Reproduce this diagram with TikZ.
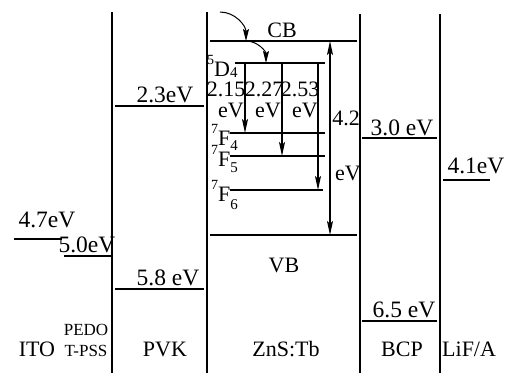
\documentclass[tikz,border=0pt]{standalone}
\usepackage{fontspec}
\setmainfont{Liberation Serif}
\usetikzlibrary{arrows.meta}

\newcommand{\term}[4]{\raisebox{12pt}{\fontsize{14}{14}\selectfont#1}#2\raisebox{-#4}{\fontsize{15}{15}\selectfont#3}}

\tikzset{
  edtext/.style={font=\fontsize{22}{24}\selectfont, inner sep=0pt, anchor=base},
  edvalue/.style={font=\fontsize{23.5}{25}\selectfont, inner sep=0pt, anchor=base},
  edsmall/.style={font=\fontsize{17}{18}\selectfont, inner sep=0pt, anchor=base},
  edwall/.style={line width=1.2pt},
  edlevel/.style={line width=1.2pt},
  edtrans/.style={line width=1.2pt, -{Stealth[length=14pt, width=6pt, inset=3pt]}},
  edgap/.style={line width=1.2pt, {Stealth[length=14pt, width=6pt, inset=3pt]}-{Stealth[length=14pt, width=6pt, inset=3pt]}},
  edcurve/.style={line width=1pt, -{Stealth[length=12pt, width=6pt, inset=2pt]}}
}

\begin{document}
\begin{tikzpicture}[x=1pt, y=-1pt]
\useasboundingbox (0,0) rectangle (505,373);

\coordinate (wa0) at (112,12);
\coordinate (wa1) at (112,373);
\coordinate (wb0) at (207,12);
\coordinate (wb1) at (207,373);
\coordinate (wc0) at (360,14);
\coordinate (wc1) at (360,373);
\coordinate (wd0) at (440,14);
\coordinate (wd1) at (440,373);

\coordinate (itoL) at (14,239);
\coordinate (itoR) at (62,239);
\coordinate (pedotL) at (64,256);
\coordinate (pedotR) at (111,256);
\coordinate (pvkuL) at (115,106);
\coordinate (pvkuR) at (204,106);
\coordinate (pvkdL) at (115,289);
\coordinate (pvkdR) at (204,289);
\coordinate (cbL) at (210,41);
\coordinate (cbR) at (357,41);
\coordinate (vbL) at (210,235);
\coordinate (vbR) at (357,235);
\coordinate (dfourL) at (235,63);
\coordinate (dfourR) at (325,63);
\coordinate (ffourL) at (230,133);
\coordinate (ffourR) at (325,133);
\coordinate (ffiveL) at (230,156);
\coordinate (ffiveR) at (325,156);
\coordinate (fsixL) at (230,190);
\coordinate (fsixR) at (323,190);
\coordinate (bcpuL) at (362,138);
\coordinate (bcpuR) at (437,138);
\coordinate (bcpdL) at (362,321);
\coordinate (bcpdR) at (437,321);
\coordinate (lifL) at (443,180);
\coordinate (lifR) at (490,180);

\coordinate (tAtop) at (245,63);
\coordinate (tAbot) at (245,133);
\coordinate (tBtop) at (282,63);
\coordinate (tBbot) at (282,156);
\coordinate (tCtop) at (318,63);
\coordinate (tCbot) at (318,190);
\coordinate (gaptop) at (330,41);
\coordinate (gapbot) at (330,235);
\coordinate (inj) at (220,12);
\coordinate (injcb) at (246,41);
\coordinate (injd) at (266,63);

\draw[edwall] (wa0) -- (wa1);
\draw[edwall] (wb0) -- (wb1);
\draw[edwall] (wc0) -- (wc1);
\draw[edwall] (wd0) -- (wd1);

\draw[edlevel] (itoL) -- (itoR);
\draw[edlevel] (pedotL) -- (pedotR);
\draw[edlevel] (pvkuL) -- (pvkuR);
\draw[edlevel] (pvkdL) -- (pvkdR);
\draw[edlevel] (cbL) -- (cbR);
\draw[edlevel] (vbL) -- (vbR);
\draw[edlevel] (dfourL) -- (dfourR);
\draw[edlevel] (ffourL) -- (ffourR);
\draw[edlevel] (ffiveL) -- (ffiveR);
\draw[edlevel] (fsixL) -- (fsixR);
\draw[edlevel] (bcpuL) -- (bcpuR);
\draw[edlevel] (bcpdL) -- (bcpdR);
\draw[edlevel] (lifL) -- (lifR);

\draw[edtrans] (tAtop) -- (tAbot);
\draw[edtrans] (tBtop) -- (tBbot);
\draw[edtrans] (tCtop) -- (tCbot);
\draw[edgap] (gaptop) -- (gapbot);
\draw[edcurve] (inj) to[out=0, in=90] (injcb);
\draw[edcurve] (injcb) to[out=0, in=90] (injd);

\node[edvalue] (itoval) at (47,227) {4.7eV};
\node[edvalue] (pedotval) at (87,252) {5.0eV};
\node[edvalue] (pvkuval) at (165,102) {2.3eV};
\node[edvalue] (pvkdval) at (168,285) {5.8 eV};
\node[edtext] (cbtext) at (282,37) {CB};
\node[edtext] (vbtext) at (284,272) {VB};
\node[edtext, anchor=base west] (dfour) at (207,76) {\term{5}{D}{4}{1.5pt}};
\node[edtext, anchor=base west] (ffour) at (211,145) {\term{7}{F}{4}{5pt}};
\node[edtext, anchor=base west] (ffive) at (211,166) {\term{7}{F}{5}{6pt}};
\node[edtext, anchor=base west] (fsix) at (211,201) {\term{7}{F}{6}{8pt}};
\node[edtext] (tAval) at (226,96) {2.15};
\node[edtext] (tAunit) at (231,117) {eV};
\node[edtext] (tBval) at (264,96) {2.27};
\node[edtext] (tBunit) at (268,117) {eV};
\node[edtext] (tCval) at (300,96) {2.53};
\node[edtext] (tCunit) at (305,117) {eV};
\node[edtext] (gapval) at (346,125) {4.2};
\node[edtext] (gapunit) at (348,180) {eV};
\node[edvalue] (bcpuval) at (402,135) {3.0 eV};
\node[edvalue] (lifval) at (476,173) {4.1eV};
\node[edvalue] (bcpdval) at (404,317) {6.5 eV};

\node[edtext] (ito) at (37,356) {ITO};
\node[edsmall] (pedotA) at (86,335) {PEDO};
\node[edsmall] (pedotB) at (86,356) {T-PSS};
\node[edtext] (pvk) at (165,356) {PVK};
\node[edtext] (zns) at (286,356) {ZnS:Tb};
\node[edtext] (bcp) at (402,356) {BCP};
\node[edtext, anchor=base west] (lif) at (442,356) {LiF/A};
\end{tikzpicture}
\end{document}
